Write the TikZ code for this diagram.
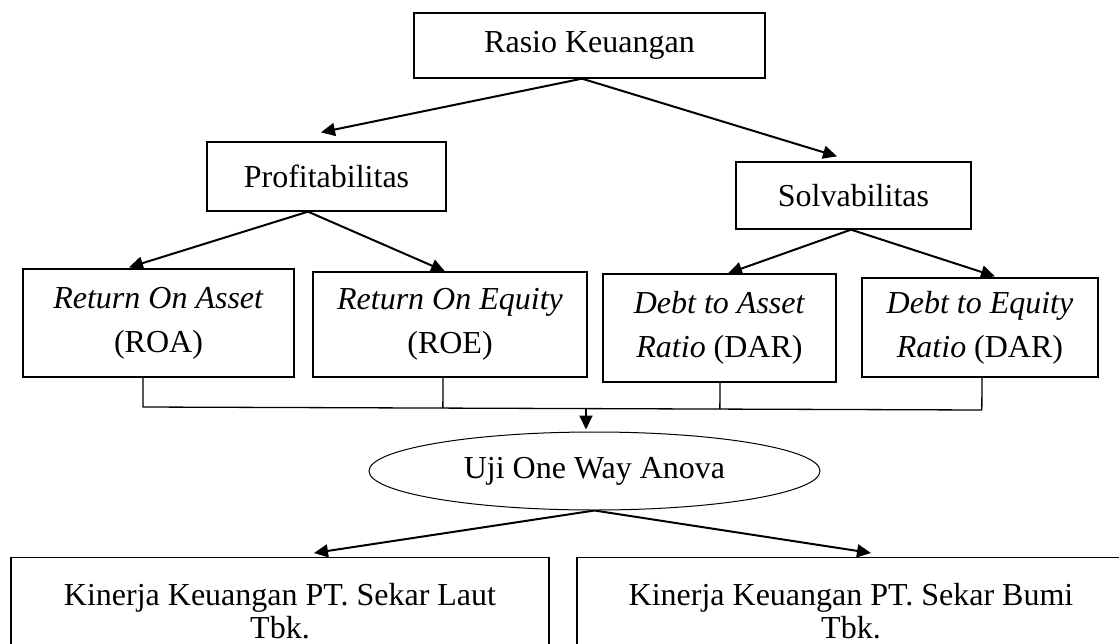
\documentclass[tikz,border=0pt]{standalone}
\usepackage{fontspec}
\setmainfont{Liberation Serif}
\usetikzlibrary{arrows.meta,shapes.geometric,calc}

\begin{document}
\begin{tikzpicture}[
    x=0.5pt, y=-0.5pt,
    box/.style={rectangle,draw,line width=0.65pt,inner sep=0pt,align=center,
        font=\fontsize{16pt}{22pt}\selectfont},
    oval/.style={ellipse,draw,line width=0.5pt,inner sep=0pt,
        minimum width=225.5pt,minimum height=39pt,font=\fontsize{16pt}{22pt}\selectfont},
    result/.style={rectangle,draw,line width=0.65pt,anchor=north,inner xsep=0pt,
        inner ysep=13pt,minimum width=269pt,align=center,font=\fontsize{16pt}{16.5pt}\selectfont},
    arr/.style={-{Triangle[length=7pt,width=6.5pt]},line width=1pt},
    bus/.style={line width=0.65pt},
]
\useasboundingbox (0,0) rectangle (1119,643);
\clip (0,0) rectangle (1119,643);

\node[box,minimum width=175.5pt,minimum height=32.5pt] (rasio) at (589.5,45.5) {Rasio Keuangan};
\node[box,minimum width=119.5pt,minimum height=34.5pt] (profit) at (326.5,176.5) {Profitabilitas};
\node[box,minimum width=117.5pt,minimum height=33.5pt] (solv) at (853.5,195.5) {Solvabilitas};

\node[box,minimum width=135.5pt,minimum height=54pt] (roa) at (158.5,323) {\textit{Return On Asset}\\(ROA)};
\node[box,minimum width=137pt,minimum height=52.5pt] (roe) at (450,324.5) {\textit{Return On Equity}\\(ROE)};
\node[box,minimum width=116.5pt,minimum height=54pt] (dar) at (719.5,328) {\textit{Debt to Asset}\\\textit{Ratio} (DAR)};
\node[box,minimum width=118pt,minimum height=49.5pt] (der) at (980,327.5) {\textit{Debt to Equity}\\\textit{Ratio} (DAR)};

\node[oval] (anova) at (594.5,471) {Uji One Way Anova};

\node[result] (sl) at (280,557) {Kinerja Keuangan PT. Sekar Laut\\Tbk.};
\node[result,minimum width=274pt] (sb) at (851,557) {Kinerja Keuangan PT. Sekar Bumi\\Tbk.};

\draw[arr] ([xshift=-3.75pt]rasio.south) -- ([shift={(-2.75pt,4.5pt)}]profit.north);
\draw[arr] ([xshift=-3.75pt]rasio.south) -- ([shift={(-8.25pt,2.5pt)}]solv.north);
\draw[arr] ([xshift=-9.25pt]profit.south) -- ([shift={(-14.75pt,0.5pt)}]roa.north);
\draw[arr] ([xshift=-9.25pt]profit.south) -- ([xshift=-2.5pt]roe.north);
\draw[arr] ([xshift=-1.25pt]solv.south) -- ([xshift=4.25pt]dar.north);
\draw[arr] ([xshift=-1.25pt]solv.south) -- ([shift={(7.5pt,0.5pt)}]der.north);

\coordinate (bl) at (143,407);
\coordinate (br) at (982,410);
\coordinate (roa-b) at ([xshift=-7.75pt]roa.south);
\coordinate (roe-b) at ([xshift=-3.5pt]roe.south);
\coordinate (dar-b) at ([xshift=0.25pt]dar.south);
\coordinate (der-b) at ([xshift=1pt]der.south);
\foreach \n in {roa,roe,dar,der}
    \draw[bus] (\n-b) -- ($(bl)!(\n-b)!(br)$);
\draw[bus] (bl) -- (br);
\coordinate (bm) at ($(bl)!0.528!(br)$);
\draw[arr,shorten >=1pt] (bm) -- (anova.north -| bm);

\draw[arr] (anova.south) -- ([shift={(17pt,2pt)}]sl.north);
\draw[arr] (anova.south) -- ([shift={(10pt,2pt)}]sb.north);
\end{tikzpicture}
\end{document}
